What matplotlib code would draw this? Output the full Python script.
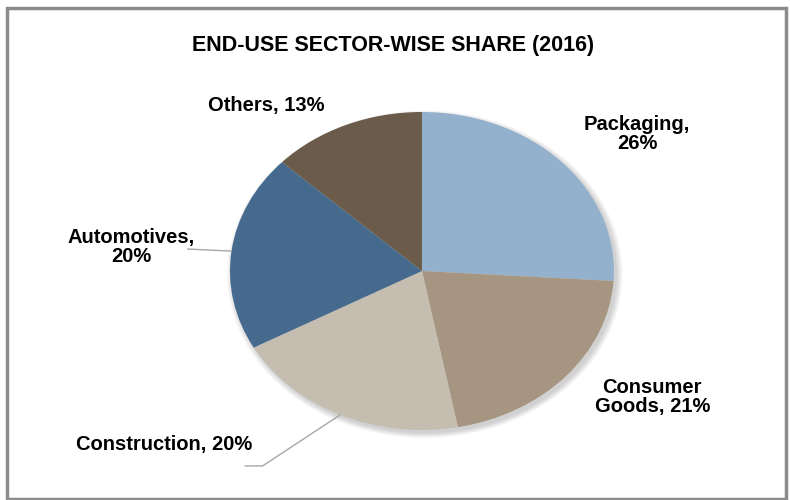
import numpy as np
import matplotlib.pyplot as plt
from matplotlib.patches import Rectangle, Ellipse

plt.rcParams['font.family'] = ['Liberation Sans', 'DejaVu Sans']

# data
sectors = ['Packaging', 'Consumer Goods', 'Construction', 'Automotives', 'Others']
shares = [26, 21, 20, 20, 13]
colors = ['#93B1CD', '#A69681', '#C4BDB0', '#466A8E', '#6A5B4B']
label_text = ['Packaging,\n26%', 'Consumer\nGoods, 21%', 'Construction, 20%',
              'Automotives,\n20%', 'Others, 13%']
# label centres in pie units (radius = 1)
label_pos = [(1.12, 0.86), (1.20, -0.79), (-1.345, -1.094), (-1.516, 0.15), (-0.81, 1.044)]

fig = plt.figure(figsize=(7.9, 5), dpi=100)

# elliptical pie: axes wider than tall, aspect auto
ax = fig.add_axes([0.2911, 0.14, 0.486, 0.636])

# soft shadow behind the pie
for k in range(6):
    ax.add_patch(Ellipse((0.015, -0.02), 2 + 0.012 * k, 2 + 0.012 * k,
                         facecolor='black', edgecolor='none', alpha=0.03,
                         zorder=0, clip_on=False))

wedges, _ = ax.pie(shares, colors=colors, startangle=90, counterclock=False,
                   wedgeprops=dict(linewidth=0))
ax.set_aspect('auto')
ax.set_xlim(-1, 1)
ax.set_ylim(-1, 1)
ax.axis('off')

for w, txt, (lx, ly) in zip(wedges, label_text, label_pos):
    ax.text(lx, ly, txt, ha='center', va='center', fontsize=14.5,
            fontweight='bold', linespacing=1.0, clip_on=False)

# leader lines for Automotives and Construction
def mid_point(w):
    a = np.deg2rad((w.theta1 + w.theta2) / 2)
    return np.cos(a), np.sin(a)

mx, my = mid_point(wedges[3])
ax.plot([-1.22, mx], [0.138, my], color='#A6A6A6', lw=1, clip_on=False)
mx, my = mid_point(wedges[2])
ax.plot([-0.92, -0.83, mx], [-1.226, -1.226, my], color='#A6A6A6', lw=1, clip_on=False)

fig.text(0.497, 0.91, 'END-USE SECTOR-WISE SHARE (2016)', ha='center', va='center',
         fontsize=15.5, fontweight='bold')

# outer frame
fig.patches.append(Rectangle((0.0089, 0.003), 0.986, 0.981, transform=fig.transFigure,
                             fill=False, edgecolor='#8C8C8C', linewidth=2.5))

fig.savefig('out.png', dpi=100)
